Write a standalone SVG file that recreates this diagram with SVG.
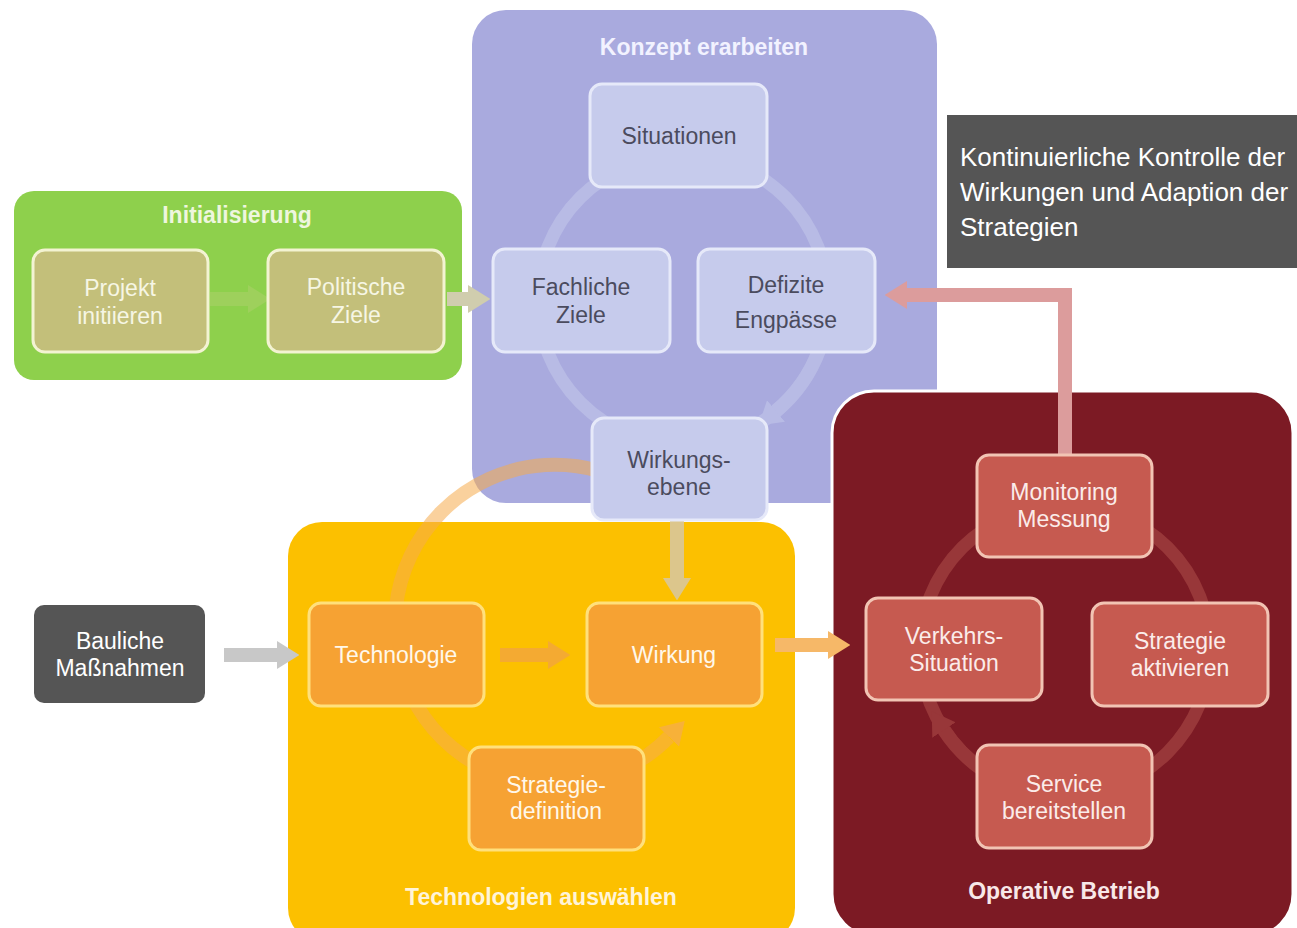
<svg xmlns="http://www.w3.org/2000/svg" width="1297" height="928" viewBox="0 0 1297 928">
<style>
text{font-family:"Liberation Sans",Arial,sans-serif;text-anchor:middle}
.title{font-weight:bold;font-size:23px}
.nt{font-size:23px}
.olive{fill:#c3bf7a;stroke:#f3f3d2;stroke-width:3}
.lav{fill:#c6cbec;stroke:#e6e9f9;stroke-width:3}
.org{fill:#f6a233;stroke:#ffe07c;stroke-width:3}
.red{fill:#c65a50;stroke:#f2c4b4;stroke-width:3}
.dark{fill:#555555}
.conn{fill:none;stroke-width:14}
</style>
<defs>
<marker id="mOl" viewBox="0 0 8 10" markerWidth="1.6" markerHeight="2" refX="0" refY="5" orient="auto"><path d="M0,0 L8,5 L0,10 z" fill="#9ed05c"/></marker>
<marker id="mTan" viewBox="0 0 8 10" markerWidth="1.6" markerHeight="2" refX="0" refY="5" orient="auto"><path d="M0,0 L8,5 L0,10 z" fill="#d0cdae"/></marker>
<marker id="mGr" viewBox="0 0 8 10" markerWidth="1.6" markerHeight="2" refX="0" refY="5" orient="auto"><path d="M0,0 L8,5 L0,10 z" fill="#c8c8c8"/></marker>
<marker id="mOr" viewBox="0 0 8 10" markerWidth="1.6" markerHeight="2" refX="0" refY="5" orient="auto"><path d="M0,0 L8,5 L0,10 z" fill="#f4aa32"/></marker>
<marker id="mSand" viewBox="0 0 8 10" markerWidth="1.6" markerHeight="2" refX="0" refY="5" orient="auto"><path d="M0,0 L8,5 L0,10 z" fill="#dcc68c"/></marker>
<marker id="mLor" viewBox="0 0 8 10" markerWidth="1.6" markerHeight="2" refX="0" refY="5" orient="auto"><path d="M0,0 L8,5 L0,10 z" fill="#f6b868"/></marker>
<marker id="mPink" viewBox="0 0 8 10" markerWidth="1.6" markerHeight="2" refX="0" refY="5" orient="auto"><path d="M0,0 L8,5 L0,10 z" fill="#dc9c9c"/></marker>
<marker id="mRingL" viewBox="0 0 8 10" markerWidth="1.6" markerHeight="2" refX="0" refY="5" orient="auto"><path d="M0,0 L8,5 L0,10 z" fill="#b8bbe5"/></marker>
<marker id="mRingR" viewBox="0 0 8 10" markerWidth="1.6" markerHeight="2" refX="0" refY="5" orient="auto"><path d="M0,0 L8,5 L0,10 z" fill="#983739"/></marker>
<marker id="mRingO" viewBox="0 0 8 10" markerWidth="1.6" markerHeight="2" refX="0" refY="5" orient="auto"><path d="M0,0 L8,5 L0,10 z" fill="#f5ac4c" fill-opacity="0.75"/></marker>
</defs>
<rect width="1297" height="928" fill="#ffffff"/>

<!-- containers -->
<g id="konzept">
<rect x="472" y="10" width="465" height="493" rx="34" fill="#a9aade"/>
<text class="title" x="704" y="55" fill="#f2f2ff">Konzept erarbeiten</text>
</g>
<g id="initialisierung">
<rect x="14" y="191" width="448" height="189" rx="20" fill="#8ed04c"/>
<text class="title" x="237" y="223" fill="#eef6de">Initialisierung</text>
</g>
<g id="technologien">
<rect x="288" y="522" width="507" height="420" rx="34" fill="#fcc000"/>
<text class="title" x="541" y="905" fill="#fff4d8">Technologien auswählen</text>
</g>
<g id="operative">
<rect x="832" y="391" width="461" height="545" rx="42" fill="#7c1a24" stroke="#ffffff" stroke-width="3"/>
<text class="title" x="1064" y="899" fill="#f8e8e8">Operative Betrieb</text>
</g>
<g id="kontrolle">
<rect x="947" y="115" width="350" height="153" fill="#555555"/>
<text x="960" y="166" font-size="26" fill="#ffffff" style="text-anchor:start">Kontinuierliche Kontrolle der</text>
<text x="960" y="201" font-size="26" fill="#ffffff" style="text-anchor:start">Wirkungen und Adaption der</text>
<text x="960" y="236" font-size="26" fill="#ffffff" style="text-anchor:start">Strategien</text>
</g>

<!-- connectors -->
<g id="connectors">
<circle cx="683" cy="300" r="145" fill="none" stroke="#b8bbe5" stroke-width="13"/>
<path class="conn" d="M819.3,349.6 A145,145 0 0 1 776,411" stroke="#b8bbe5" stroke-width="13" marker-end="url(#mRingL)"/>
<circle cx="1065" cy="650" r="145" fill="none" stroke="#983739" stroke-width="13"/>
<path class="conn" d="M1000,780 A145,145 0 0 1 944,730" stroke="#983739" stroke-width="13" marker-end="url(#mRingR)"/>
<path class="conn" d="M599,471 A160,160 0 1 0 669,737" stroke="#f5ac4c" stroke-width="13" stroke-opacity="0.55" marker-end="url(#mRingO)"/>
<path class="conn" d="M210,299 H248" stroke="#9ed05c" stroke-width="12" marker-end="url(#mOl)"/>
<path class="conn" d="M447,299 H468" stroke="#d0cdae" stroke-width="13" marker-end="url(#mTan)"/>
<path class="conn" d="M224,655 H277" stroke="#c8c8c8" marker-end="url(#mGr)"/>
<path class="conn" d="M500,655 H548" stroke="#f4aa32" marker-end="url(#mOr)"/>
<path class="conn" d="M677,518 V578" stroke="#dcc68c" marker-end="url(#mSand)"/>
<path class="conn" d="M775,645 H828" stroke="#f6b868" marker-end="url(#mLor)"/>
<path class="conn" d="M1065,456 V295 H907" stroke="#dc9c9c" marker-end="url(#mPink)"/>
</g>

<!-- nodes -->
<g id="projekt"><rect class="olive" x="33" y="250" width="175" height="102" rx="12"/><text class="nt" x="120" y="296" fill="#f6f6e4">Projekt</text><text class="nt" x="120" y="324" fill="#f6f6e4">initiieren</text></g>
<g id="politische"><rect class="olive" x="268" y="250" width="176" height="102" rx="12"/><text class="nt" x="356" y="295" fill="#f6f6e4">Politische</text><text class="nt" x="356" y="323" fill="#f6f6e4">Ziele</text></g>

<g id="situationen"><rect class="lav" x="590" y="84" width="177" height="103" rx="12"/><text class="nt" x="679" y="144" fill="#4b4b5e">Situationen</text></g>
<g id="fachliche"><rect class="lav" x="493" y="249" width="177" height="103" rx="12"/><text class="nt" x="581" y="295" fill="#4b4b5e">Fachliche</text><text class="nt" x="581" y="323" fill="#4b4b5e">Ziele</text></g>
<g id="defizite"><rect class="lav" x="698" y="249" width="177" height="103" rx="12"/><text class="nt" x="786" y="293" fill="#4b4b5e">Defizite</text><text class="nt" x="786" y="328" fill="#4b4b5e">Engpässe</text></g>
<g id="wirkungsebene"><rect class="lav" x="592" y="418" width="175" height="102" rx="12"/><text class="nt" x="679" y="468" fill="#4b4b5e">Wirkungs-</text><text class="nt" x="679" y="495" fill="#4b4b5e">ebene</text></g>

<g id="bauliche"><rect class="dark" x="34" y="605" width="171" height="98" rx="10"/><text class="nt" x="120" y="649" fill="#ffffff">Bauliche</text><text class="nt" x="120" y="676" fill="#ffffff">Maßnahmen</text></g>

<g id="technologie"><rect class="org" x="309" y="603" width="175" height="103" rx="12"/><text class="nt" x="396" y="663" fill="#fff8ea">Technologie</text></g>
<g id="wirkung"><rect class="org" x="587" y="603" width="175" height="103" rx="12"/><text class="nt" x="674" y="663" fill="#fff8ea">Wirkung</text></g>
<g id="strategiedef"><rect class="org" x="469" y="747" width="175" height="103" rx="12"/><text class="nt" x="556" y="793" fill="#fff8ea">Strategie-</text><text class="nt" x="556" y="819" fill="#fff8ea">definition</text></g>

<g id="monitoring"><rect class="red" x="977" y="455" width="175" height="102" rx="12"/><text class="nt" x="1064" y="500" fill="#fbecea">Monitoring</text><text class="nt" x="1064" y="527" fill="#fbecea">Messung</text></g>
<g id="verkehrs"><rect class="red" x="866" y="598" width="176" height="102" rx="12"/><text class="nt" x="954" y="644" fill="#fbecea">Verkehrs-</text><text class="nt" x="954" y="671" fill="#fbecea">Situation</text></g>
<g id="strategieakt"><rect class="red" x="1092" y="603" width="176" height="103" rx="12"/><text class="nt" x="1180" y="649" fill="#fbecea">Strategie</text><text class="nt" x="1180" y="676" fill="#fbecea">aktivieren</text></g>
<g id="service"><rect class="red" x="977" y="745" width="175" height="103" rx="12"/><text class="nt" x="1064" y="792" fill="#fbecea">Service</text><text class="nt" x="1064" y="819" fill="#fbecea">bereitstellen</text></g>
</svg>
